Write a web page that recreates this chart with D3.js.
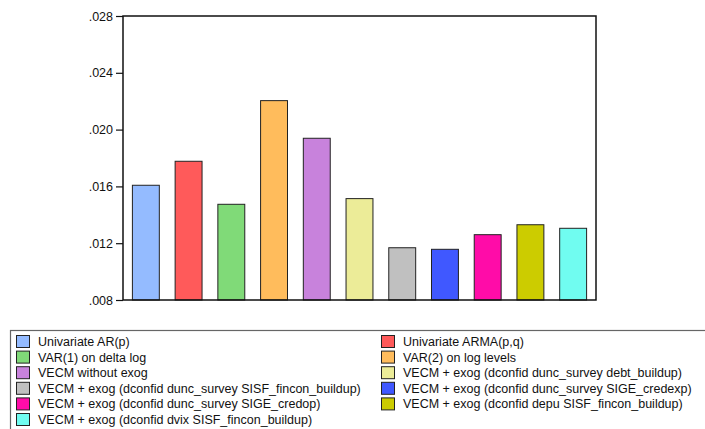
<!DOCTYPE html>
<html><head><meta charset="utf-8">
<script src="https://cdn.jsdelivr.net/npm/d3@7"></script>
<style>body{margin:0;background:#fff}svg{display:block;font-family:"Liberation Sans",Arial,sans-serif}</style>
</head><body><svg id="c" width="705" height="429"></svg>
<script>
const categories = [
  "Univariate AR(p)",
  "Univariate ARMA(p,q)",
  "VAR(1) on delta log",
  "VAR(2) on log levels",
  "VECM without exog",
  "VECM + exog (dconfid dunc_survey debt_buildup)",
  "VECM + exog (dconfid dunc_survey SISF_fincon_buildup)",
  "VECM + exog (dconfid dunc_survey SIGE_credexp)",
  "VECM + exog (dconfid dunc_survey SIGE_credop)",
  "VECM + exog (dconfid depu SISF_fincon_buildup)",
  "VECM + exog (dconfid dvix SISF_fincon_buildup)"
];
const values = [0.01608, 0.01777, 0.01474, 0.02204, 0.01939, 0.01514, 0.01168, 0.01157, 0.01260, 0.01330, 0.01305];
const colors = ["#94bbff","#ff5a5a","#80da78","#ffbc5c","#c882dc","#ecec98","#c0c0c0","#4058ff","#ff0ca8","#cccc00","#70fcf0"];
const yTicks = [0.008, 0.012, 0.016, 0.020, 0.024, 0.028];

const svg = d3.select("#c");
const L = 123, R = 596, T = 16, B = 300;
const x = d3.scaleBand().domain(d3.range(categories.length)).range([L, R]).paddingInner(0.37).paddingOuter(0.22);
const y = d3.scaleLinear().domain([0.008, 0.028]).range([B, T]);

svg.append("g").selectAll("rect").data(values).join("rect")
  .attr("x", (d,i) => x(i)).attr("width", x.bandwidth())
  .attr("y", d => y(d)).attr("height", d => B - y(d))
  .attr("fill", (d,i) => colors[i]).attr("stroke", "#222").attr("stroke-width", 1);

svg.append("rect").attr("x", L).attr("y", T).attr("width", R-L).attr("height", B-T)
  .attr("fill", "none").attr("stroke", "#111").attr("stroke-width", 1.5);

const ax = svg.append("g").attr("transform", `translate(${L},0)`)
  .call(d3.axisLeft(y).tickValues(yTicks).tickSize(7).tickPadding(3)
    .tickFormat(d => d3.format(".3f")(d).replace(/^0/, "")));
ax.select(".domain").remove();
ax.selectAll("line").attr("stroke", "#111").attr("stroke-width", 1.2);
ax.selectAll("text").attr("font-size", 12.5).attr("fill", "#111").attr("font-family", '"Liberation Sans",Arial,sans-serif');

// legend
svg.append("rect").attr("x", 10.5).attr("y", 330.5).attr("width", 720).attr("height", 120)
  .attr("fill", "none").attr("stroke", "#666").attr("stroke-width", 1.2);
const leg = svg.append("g").selectAll("g").data(categories).join("g")
  .attr("transform", (d,i) => `translate(${i % 2 === 0 ? 16 : 381},${335 + Math.floor(i/2)*15.6})`);
leg.append("rect").attr("x", 0.5).attr("y", 0.5).attr("width", 13).attr("height", 12)
  .attr("fill", (d,i) => colors[i]).attr("stroke", "#222").attr("stroke-width", 1);
leg.append("text").attr("x", 22).attr("y", 11).attr("font-size", 12.5).attr("fill", "#111").text(d => d);
</script></body></html>
